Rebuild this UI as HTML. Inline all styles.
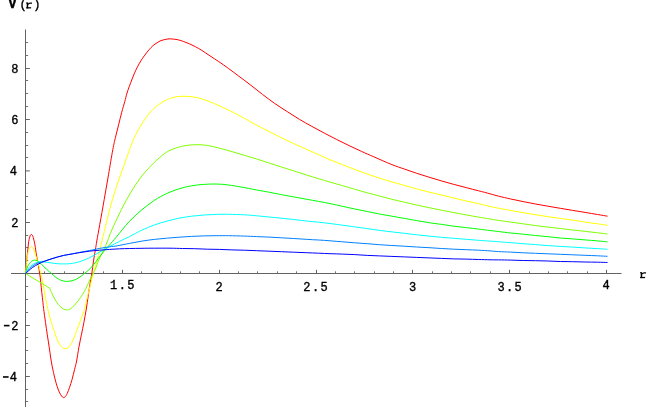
<!DOCTYPE html>
<html><head><meta charset="utf-8"><title>V(r)</title>
<style>
html,body{margin:0;padding:0;background:#fff;}
body{width:646px;height:407px;overflow:hidden;position:relative;}
.t text{font-family:"Liberation Mono",monospace;font-size:12px;letter-spacing:1.4px;fill:#000;stroke:#000;stroke-width:0.35;}
</style></head><body>
<svg width="646" height="407" viewBox="0 0 646 407" style="position:absolute;left:0;top:0;will-change:transform"><rect x="25" y="29.5" width="1" height="378" fill="#626262"/>
<rect x="11" y="273" width="610.5" height="1" fill="#626262"/>
<rect x="44" y="271.3" width="1" height="1.9" fill="#747474"/>
<rect x="64" y="271.3" width="1" height="1.9" fill="#747474"/>
<rect x="83" y="271.3" width="1" height="1.9" fill="#747474"/>
<rect x="103" y="271.3" width="1" height="1.9" fill="#747474"/>
<rect x="122" y="269.8" width="1" height="3.4" fill="#626262"/>
<rect x="141" y="271.3" width="1" height="1.9" fill="#747474"/>
<rect x="161" y="271.3" width="1" height="1.9" fill="#747474"/>
<rect x="180" y="271.3" width="1" height="1.9" fill="#747474"/>
<rect x="199" y="271.3" width="1" height="1.9" fill="#747474"/>
<rect x="219" y="269.8" width="1" height="3.4" fill="#626262"/>
<rect x="238" y="271.3" width="1" height="1.9" fill="#747474"/>
<rect x="257" y="271.3" width="1" height="1.9" fill="#747474"/>
<rect x="277" y="271.3" width="1" height="1.9" fill="#747474"/>
<rect x="296" y="271.3" width="1" height="1.9" fill="#747474"/>
<rect x="316" y="269.8" width="1" height="3.4" fill="#626262"/>
<rect x="335" y="271.3" width="1" height="1.9" fill="#747474"/>
<rect x="354" y="271.3" width="1" height="1.9" fill="#747474"/>
<rect x="374" y="271.3" width="1" height="1.9" fill="#747474"/>
<rect x="393" y="271.3" width="1" height="1.9" fill="#747474"/>
<rect x="412" y="269.8" width="1" height="3.4" fill="#626262"/>
<rect x="432" y="271.3" width="1" height="1.9" fill="#747474"/>
<rect x="451" y="271.3" width="1" height="1.9" fill="#747474"/>
<rect x="470" y="271.3" width="1" height="1.9" fill="#747474"/>
<rect x="490" y="271.3" width="1" height="1.9" fill="#747474"/>
<rect x="509" y="269.8" width="1" height="3.4" fill="#626262"/>
<rect x="529" y="271.3" width="1" height="1.9" fill="#747474"/>
<rect x="548" y="271.3" width="1" height="1.9" fill="#747474"/>
<rect x="567" y="271.3" width="1" height="1.9" fill="#747474"/>
<rect x="587" y="271.3" width="1" height="1.9" fill="#747474"/>
<rect x="606" y="269.8" width="1" height="3.4" fill="#626262"/>
<rect x="26" y="401" width="2.2" height="1" fill="#747474"/>
<rect x="26" y="389" width="2.2" height="1" fill="#747474"/>
<rect x="26" y="376" width="3.8" height="1" fill="#626262"/>
<rect x="26" y="363" width="2.2" height="1" fill="#747474"/>
<rect x="26" y="350" width="2.2" height="1" fill="#747474"/>
<rect x="26" y="337" width="2.2" height="1" fill="#747474"/>
<rect x="26" y="325" width="3.8" height="1" fill="#626262"/>
<rect x="26" y="312" width="2.2" height="1" fill="#747474"/>
<rect x="26" y="299" width="2.2" height="1" fill="#747474"/>
<rect x="26" y="286" width="2.2" height="1" fill="#747474"/>
<rect x="26" y="260" width="2.2" height="1" fill="#747474"/>
<rect x="26" y="247" width="2.2" height="1" fill="#747474"/>
<rect x="26" y="235" width="2.2" height="1" fill="#747474"/>
<rect x="26" y="222" width="3.8" height="1" fill="#626262"/>
<rect x="26" y="209" width="2.2" height="1" fill="#747474"/>
<rect x="26" y="196" width="2.2" height="1" fill="#747474"/>
<rect x="26" y="183" width="2.2" height="1" fill="#747474"/>
<rect x="26" y="170.4" width="3.8" height="1" fill="#626262"/>
<rect x="26" y="157" width="2.2" height="1" fill="#747474"/>
<rect x="26" y="145" width="2.2" height="1" fill="#747474"/>
<rect x="26" y="132" width="2.2" height="1" fill="#747474"/>
<rect x="26" y="119" width="3.8" height="1" fill="#626262"/>
<rect x="26" y="106" width="2.2" height="1" fill="#747474"/>
<rect x="26" y="93" width="2.2" height="1" fill="#747474"/>
<rect x="26" y="80" width="2.2" height="1" fill="#747474"/>
<rect x="26" y="68" width="3.8" height="1" fill="#626262"/>
<rect x="26" y="55" width="2.2" height="1" fill="#747474"/>
<rect x="26" y="42" width="2.2" height="1" fill="#747474"/>
<path d="M25.5 273.5C25.7 271.7 26.2 265.9 26.5 262.5C26.8 259.1 27.1 256.3 27.5 252.8C27.9 249.3 28.3 244.4 28.7 241.6C29.1 238.8 29.7 237.1 30.1 235.9C30.6 234.7 30.9 234.4 31.4 234.5C31.8 234.6 32.3 234.8 32.8 236.2C33.3 237.6 34.0 240.1 34.6 242.9C35.2 245.7 35.6 249.7 36.1 252.8C36.6 255.9 37.1 258.6 37.6 261.4C38.1 264.2 38.7 266.8 39.1 269.5C39.5 272.2 39.9 274.8 40.3 277.9C40.7 280.9 40.9 284.5 41.3 287.8C41.6 291.1 42.0 294.2 42.4 297.7C42.8 301.1 43.1 304.4 43.6 308.5C44.1 312.6 44.9 318.0 45.5 322.4C46.1 326.8 46.7 330.7 47.3 334.8C47.9 338.9 48.7 343.5 49.2 347.2C49.8 350.9 50.1 353.7 50.6 357.0C51.1 360.3 51.6 363.4 52.3 366.9C53.0 370.4 54.0 374.8 54.8 378.1C55.6 381.4 56.4 384.2 57.2 386.7C58.0 389.2 59.0 391.3 59.7 392.9C60.4 394.4 61.0 395.2 61.6 396.0C62.2 396.8 62.8 397.5 63.4 397.6C64.0 397.7 64.7 397.3 65.3 396.6C65.9 395.9 66.5 395.1 67.2 393.5C67.9 391.9 68.8 389.7 69.6 387.3C70.4 384.9 71.3 382.3 72.1 379.3C72.9 376.3 73.8 372.4 74.6 369.4C75.3 366.3 75.9 364.7 76.6 361.0C77.3 357.3 78.1 351.6 78.9 347.2C79.7 342.8 80.6 338.9 81.4 334.8C82.2 330.7 83.1 326.7 83.9 322.4C84.7 318.1 85.6 313.3 86.3 309.0C87.0 304.7 87.5 300.6 88.1 296.5C88.7 292.4 89.4 287.9 90.0 284.1C90.6 280.3 91.2 277.5 91.8 273.6C92.4 269.8 92.9 265.0 93.5 261.0C94.1 257.0 94.9 252.8 95.4 249.5C96.0 246.2 96.1 245.2 96.8 241.0C97.5 236.8 98.6 231.2 99.8 224.3C101.0 217.4 102.8 207.8 104.2 199.5C105.7 191.2 107.1 183.1 108.5 174.8C109.9 166.5 111.6 156.0 112.8 149.7C114.0 143.4 114.5 141.3 115.5 137.2C116.5 133.0 117.6 128.9 118.6 124.8C119.6 120.7 120.7 116.3 121.7 112.4C122.7 108.5 124.0 104.5 124.8 101.5C125.6 98.5 126.0 96.6 126.7 94.1C127.4 91.6 128.2 89.4 129.2 86.7C130.2 84.0 131.4 80.8 132.5 78.0C133.6 75.2 134.7 72.6 135.8 70.2C136.9 67.8 138.0 65.8 139.1 63.8C140.2 61.8 141.3 60.1 142.6 58.2C143.9 56.3 145.6 54.0 147.0 52.2C148.4 50.4 149.7 49.0 151.0 47.6C152.3 46.2 153.3 45.3 155.0 44.1C156.7 42.9 159.0 41.4 161.0 40.6C163.0 39.8 165.5 39.4 167.2 39.1C168.8 38.8 169.2 38.8 170.9 38.9C172.6 39.0 175.0 39.2 177.1 39.6C179.2 40.0 181.2 40.7 183.3 41.4C185.4 42.1 187.4 42.9 189.4 43.8C191.4 44.7 193.5 45.7 195.6 46.8C197.7 47.9 199.4 48.9 201.8 50.4C204.2 51.9 207.2 54.0 210.0 55.9C212.8 57.8 215.7 59.5 218.8 61.6C221.9 63.7 225.4 66.2 228.7 68.6C232.0 71.0 235.0 73.3 238.6 76.0C242.2 78.7 246.0 81.5 250.0 84.6C254.0 87.6 258.3 91.1 262.4 94.3C266.5 97.5 270.7 100.6 274.8 103.5C278.9 106.4 283.1 108.9 287.2 111.6C291.3 114.2 295.4 116.9 299.5 119.4C303.6 121.9 307.8 124.1 311.9 126.4C316.0 128.7 320.2 130.9 324.3 133.1C328.4 135.3 332.6 137.4 336.7 139.5C340.8 141.6 345.0 143.6 349.1 145.6C353.2 147.6 357.4 149.5 361.5 151.4C365.6 153.3 368.7 154.6 373.8 156.8C378.9 159.0 386.8 162.6 391.9 164.6C397.0 166.6 400.2 167.6 404.3 169.0C408.4 170.4 412.6 171.9 416.7 173.3C420.8 174.7 425.0 175.9 429.1 177.2C433.2 178.5 437.4 179.7 441.5 180.9C445.6 182.1 449.7 183.3 453.8 184.4C457.9 185.5 462.1 186.5 466.2 187.6C470.3 188.7 474.6 189.8 478.6 190.8C482.6 191.8 486.7 192.9 490.0 193.8C493.3 194.7 494.9 195.2 498.4 196.1C501.9 197.0 506.7 198.1 510.8 199.0C514.9 199.9 519.1 200.8 523.2 201.6C527.3 202.4 531.4 203.2 535.5 204.0C539.6 204.8 543.8 205.5 547.9 206.2C552.0 206.9 556.2 207.6 560.3 208.3C564.4 209.0 568.6 209.7 572.7 210.4C576.8 211.1 581.0 211.7 585.1 212.4C589.2 213.1 593.8 213.9 597.5 214.5C601.2 215.1 605.8 215.9 607.5 216.2" fill="none" stroke="#ff0000" stroke-width="1.0" stroke-linejoin="round"/>
<path d="M25.5 273.5C25.7 271.3 26.4 263.6 26.8 260.2C27.2 256.8 27.5 254.8 28.0 252.8C28.5 250.8 29.1 249.4 29.7 248.4C30.3 247.4 30.9 246.6 31.5 246.6C32.1 246.6 32.7 247.4 33.3 248.4C33.9 249.4 34.3 250.9 34.9 252.8C35.5 254.7 36.3 257.1 37.0 259.6C37.7 262.1 38.6 265.3 39.3 267.6C39.9 269.9 40.4 271.3 40.9 273.5C41.4 275.7 42.0 278.3 42.5 281.0C43.0 283.7 43.5 286.6 44.0 289.5C44.5 292.4 45.1 295.7 45.6 298.5C46.1 301.3 46.5 303.2 47.2 306.4C47.9 309.6 49.0 314.0 49.9 317.5C50.8 321.0 52.0 324.4 52.9 327.3C53.8 330.2 54.6 332.5 55.4 334.8C56.2 337.1 57.1 339.2 57.9 341.0C58.7 342.8 59.5 344.2 60.3 345.3C61.1 346.4 62.0 347.2 62.8 347.8C63.6 348.4 64.5 348.6 65.3 348.6C66.1 348.6 67.0 348.4 67.8 347.8C68.6 347.2 69.4 346.4 70.2 345.3C71.0 344.2 71.9 342.8 72.7 341.0C73.5 339.2 74.4 337.0 75.2 334.8C76.0 332.6 76.8 330.4 77.7 328.0C78.6 325.6 79.6 323.0 80.5 320.5C81.4 318.0 82.4 315.2 83.1 313.1C83.8 311.0 84.2 310.4 84.9 307.6C85.6 304.8 86.5 300.4 87.5 296.5C88.5 292.6 89.6 287.9 90.6 284.1C91.6 280.3 92.5 276.6 93.3 273.6C94.1 270.6 94.8 268.4 95.5 266.0C96.2 263.6 96.7 261.6 97.4 259.0C98.1 256.4 98.9 253.3 99.6 250.5C100.3 247.7 100.8 245.4 101.7 241.9C102.6 238.4 103.2 235.5 104.8 229.3C106.3 223.1 108.9 211.9 111.0 204.5C113.1 197.1 115.2 190.9 117.2 184.7C119.2 178.5 121.3 173.0 123.3 167.3C125.3 161.6 127.6 155.1 129.3 150.5C131.0 145.9 131.9 143.1 133.4 139.6C134.9 136.1 136.8 132.7 138.4 129.7C140.1 126.7 141.5 124.5 143.3 121.7C145.2 118.9 147.4 115.5 149.5 113.0C151.6 110.5 153.6 108.6 155.7 106.8C157.8 105.0 159.9 103.6 161.9 102.4C163.9 101.2 166.1 100.2 167.5 99.5C168.9 98.8 169.0 98.8 170.5 98.3C172.0 97.8 174.6 97.0 176.7 96.7C178.8 96.4 180.8 96.3 182.9 96.3C185.0 96.3 186.8 96.3 189.1 96.5C191.4 96.7 194.0 97.0 196.5 97.5C199.0 98.0 201.0 98.6 203.9 99.6C206.8 100.6 210.5 102.0 213.8 103.4C217.1 104.8 220.4 106.3 223.7 107.8C227.0 109.3 230.3 110.8 233.7 112.6C237.1 114.3 240.5 116.2 244.3 118.3C248.1 120.4 252.6 123.0 256.7 125.2C260.8 127.4 265.0 129.5 269.1 131.6C273.2 133.7 277.4 135.8 281.5 137.8C285.6 139.8 289.7 141.7 293.8 143.6C297.9 145.5 302.1 147.3 306.2 149.2C310.3 151.0 314.6 152.9 318.6 154.7C322.6 156.5 326.0 158.2 330.0 159.8C334.0 161.5 338.3 163.0 342.4 164.6C346.5 166.2 350.7 167.9 354.8 169.5C358.9 171.1 363.1 172.6 367.2 174.0C371.3 175.4 375.4 176.9 379.5 178.2C383.6 179.5 387.8 180.7 391.9 181.9C396.0 183.1 400.2 184.2 404.3 185.4C408.4 186.6 412.6 187.8 416.7 188.9C420.8 190.0 425.0 191.1 429.1 192.1C433.2 193.1 437.4 194.0 441.5 195.0C445.6 196.0 449.7 197.0 453.8 198.0C457.9 199.0 462.1 200.1 466.2 201.0C470.3 201.9 474.6 202.8 478.6 203.7C482.6 204.6 486.7 205.7 490.0 206.4C493.3 207.2 494.9 207.5 498.4 208.2C501.9 208.9 506.7 209.8 510.8 210.5C514.9 211.2 519.1 212.0 523.2 212.7C527.3 213.4 531.4 214.0 535.5 214.7C539.6 215.4 543.8 216.1 547.9 216.7C552.0 217.3 556.2 217.8 560.3 218.4C564.4 219.0 568.6 219.5 572.7 220.1C576.8 220.7 581.0 221.5 585.1 222.1C589.2 222.7 593.8 223.3 597.5 223.8C601.2 224.3 605.8 225.1 607.5 225.3" fill="none" stroke="#ffff00" stroke-width="1.0" stroke-linejoin="round"/>
<path d="M25.5 273.5L49.7 288.2M49.7 288.2C50.0 289.0 50.9 291.0 51.7 292.8C52.5 294.6 53.6 297.1 54.7 299.0C55.8 300.9 57.2 303.0 58.4 304.5C59.6 306.0 60.8 307.3 62.1 308.2C63.4 309.1 65.0 309.8 66.4 309.9C67.9 310.0 69.5 309.4 70.8 308.6C72.1 307.8 73.2 306.6 74.5 305.2C75.8 303.8 77.3 302.0 78.6 300.2C79.9 298.4 81.2 296.6 82.4 294.6C83.6 292.6 84.8 290.7 86.0 288.4C87.2 286.1 88.1 283.5 89.3 281.0C90.5 278.5 92.1 275.6 93.1 273.6C94.1 271.6 94.4 271.3 95.4 269.0C96.4 266.7 97.5 262.9 98.9 259.7C100.3 256.5 102.2 252.9 103.7 249.8C105.2 246.7 106.2 244.2 107.6 240.9C108.9 237.6 109.5 235.2 111.8 230.0C114.1 224.8 118.3 215.7 121.5 209.4C124.7 203.1 127.8 197.5 131.0 192.1C134.2 186.7 137.4 181.7 140.9 177.2C144.4 172.7 148.3 168.5 151.8 164.9C155.3 161.3 158.7 158.2 161.7 155.8C164.7 153.4 166.6 151.9 170.0 150.3C173.4 148.7 178.3 147.1 182.4 146.2C186.5 145.3 190.7 144.8 194.8 144.7C198.9 144.6 203.1 144.8 207.2 145.4C211.3 146.0 215.4 147.2 219.5 148.2C223.6 149.2 227.8 150.4 231.9 151.6C236.0 152.8 240.2 154.1 244.3 155.3C248.4 156.5 252.6 157.7 256.7 159.0C260.8 160.3 265.0 161.7 269.1 163.0C273.2 164.3 277.4 165.7 281.5 167.0C285.6 168.3 289.7 169.6 293.8 170.9C297.9 172.2 302.1 173.6 306.2 174.9C310.3 176.2 314.6 177.5 318.6 178.7C322.6 179.9 326.0 180.9 330.0 182.1C334.0 183.2 338.3 184.4 342.4 185.6C346.5 186.8 350.7 188.1 354.8 189.3C358.9 190.5 363.1 191.7 367.2 192.8C371.3 193.9 375.4 194.9 379.5 196.0C383.6 197.1 387.8 198.3 391.9 199.3C396.0 200.3 400.2 201.2 404.3 202.2C408.4 203.1 412.6 204.1 416.7 205.0C420.8 205.9 425.0 206.8 429.1 207.7C433.2 208.6 437.4 209.4 441.5 210.2C445.6 211.0 449.7 211.8 453.8 212.6C457.9 213.4 462.1 214.2 466.2 214.9C470.3 215.7 474.6 216.4 478.6 217.1C482.6 217.8 486.7 218.4 490.0 219.0C493.3 219.6 494.9 219.9 498.4 220.4C501.9 220.9 506.7 221.5 510.8 222.1C514.9 222.7 519.1 223.2 523.2 223.8C527.3 224.4 531.4 225.1 535.5 225.6C539.6 226.1 543.8 226.6 547.9 227.1C552.0 227.6 556.2 228.0 560.3 228.5C564.4 229.0 568.6 229.5 572.7 230.0C576.8 230.5 581.0 230.8 585.1 231.3C589.2 231.8 593.8 232.4 597.5 232.8C601.2 233.2 605.8 233.8 607.5 234.0" fill="none" stroke="#80ff00" stroke-width="1.0" stroke-linejoin="round"/>
<path d="M25.5 273.5C25.8 272.4 26.7 268.7 27.4 267.0C28.1 265.3 28.9 264.4 29.6 263.4C30.3 262.4 31.0 261.8 31.8 261.2C32.6 260.6 33.6 260.1 34.6 260.1C35.6 260.1 36.5 260.4 37.5 261.0C38.5 261.6 39.9 262.6 40.9 263.5C41.9 264.4 42.5 265.4 43.4 266.3C44.3 267.2 45.3 268.0 46.2 268.8C47.1 269.6 48.0 270.5 48.9 271.3C49.8 272.1 50.5 272.7 51.3 273.4C52.1 274.1 53.0 275.0 53.8 275.7C54.6 276.4 55.4 277.0 56.2 277.6C57.0 278.2 57.8 278.7 58.6 279.1C59.4 279.5 60.0 279.9 60.9 280.2C61.8 280.5 62.7 280.9 63.7 281.1C64.7 281.3 65.7 281.4 67.1 281.4C68.5 281.3 70.4 281.2 72.0 280.8C73.6 280.4 75.2 279.7 76.8 278.9C78.3 278.1 79.7 277.1 81.3 276.0C82.9 274.9 84.7 273.4 86.2 272.1C87.8 270.8 89.0 269.9 90.6 268.2C92.2 266.5 94.3 263.8 95.9 261.7C97.5 259.6 98.8 257.7 100.3 255.8C101.8 253.9 103.2 252.1 104.8 250.3C106.3 248.5 107.6 247.2 109.6 244.9C111.6 242.6 113.4 240.5 116.6 236.7C119.8 232.9 124.7 226.4 128.8 222.0C132.9 217.6 137.2 213.8 141.4 210.2C145.7 206.6 150.1 203.2 154.3 200.4C158.5 197.6 162.6 195.4 166.7 193.5C170.8 191.6 175.0 190.1 179.1 188.8C183.2 187.5 187.4 186.5 191.5 185.8C195.6 185.1 199.7 184.7 203.8 184.4C207.9 184.1 212.1 183.9 216.2 184.0C220.3 184.1 224.6 184.5 228.6 185.0C232.6 185.5 235.3 186.0 240.0 186.8C244.7 187.6 251.8 189.1 256.7 190.0C261.6 190.9 265.0 191.4 269.1 192.2C273.2 193.0 277.4 193.9 281.5 194.7C285.6 195.5 289.7 196.2 293.8 196.9C297.9 197.7 302.1 198.4 306.2 199.2C310.3 199.9 314.6 200.7 318.6 201.4C322.6 202.1 326.0 202.8 330.0 203.6C334.0 204.4 338.3 205.4 342.4 206.3C346.5 207.2 350.7 208.1 354.8 209.0C358.9 209.9 363.1 210.7 367.2 211.5C371.3 212.3 375.4 213.2 379.5 214.0C383.6 214.8 387.8 215.5 391.9 216.2C396.0 216.9 400.2 217.7 404.3 218.4C408.4 219.1 412.6 219.9 416.7 220.6C420.8 221.3 425.0 222.1 429.1 222.7C433.2 223.3 437.4 223.8 441.5 224.4C445.6 225.0 449.7 225.7 453.8 226.2C457.9 226.7 462.1 227.1 466.2 227.6C470.3 228.1 474.6 228.6 478.6 229.1C482.6 229.6 486.7 230.1 490.0 230.5C493.3 230.9 494.9 231.1 498.4 231.5C501.9 231.9 506.7 232.6 510.8 233.0C514.9 233.4 519.1 233.8 523.2 234.2C527.3 234.6 531.4 235.1 535.5 235.5C539.6 235.9 543.8 236.3 547.9 236.7C552.0 237.1 556.2 237.6 560.3 238.0C564.4 238.4 568.6 238.6 572.7 238.9C576.8 239.2 581.0 239.6 585.1 239.9C589.2 240.2 593.8 240.6 597.5 240.9C601.2 241.2 605.8 241.7 607.5 241.9" fill="none" stroke="#00ff00" stroke-width="1.0" stroke-linejoin="round"/>
<path d="M25.5 273.5C26.0 272.6 27.6 269.4 28.7 267.9C29.8 266.4 31.2 265.6 32.4 264.7C33.6 263.8 34.9 263.2 36.1 262.7C37.3 262.2 38.3 261.9 39.8 261.8C41.2 261.7 42.9 261.9 44.8 262.1C46.7 262.3 48.9 262.6 51.0 262.9C53.1 263.2 55.2 263.5 57.2 263.7C59.2 263.9 61.2 263.9 63.3 263.9C65.3 263.9 67.5 263.9 69.5 263.7C71.5 263.5 73.3 263.2 75.0 262.9C76.7 262.5 78.2 262.1 79.9 261.6C81.6 261.1 83.2 260.5 84.9 259.8C86.6 259.1 88.2 258.4 89.8 257.6C91.4 256.8 93.1 255.8 94.8 254.9C96.5 254.0 98.0 252.9 99.7 252.0C101.4 251.1 103.1 250.1 104.7 249.2C106.3 248.3 107.9 247.5 109.6 246.6C111.2 245.7 112.9 244.8 114.6 243.9C116.3 243.0 117.9 242.1 119.6 241.3C121.2 240.5 122.8 239.7 124.5 238.9C126.2 238.1 127.7 237.5 129.5 236.6C131.3 235.7 133.4 234.5 135.5 233.4C137.6 232.3 138.8 231.5 141.9 230.1C145.0 228.7 150.2 226.5 154.3 225.0C158.4 223.5 162.6 222.3 166.7 221.2C170.8 220.1 175.0 219.0 179.1 218.2C183.2 217.4 187.4 216.7 191.5 216.2C195.6 215.7 199.7 215.3 203.8 215.0C207.9 214.7 212.1 214.5 216.2 214.4C220.3 214.3 223.9 214.2 228.6 214.3C233.3 214.4 239.6 214.6 244.3 214.8C249.0 215.1 252.6 215.4 256.7 215.8C260.8 216.2 265.0 216.6 269.1 217.0C273.2 217.4 277.4 217.8 281.5 218.2C285.6 218.6 289.7 219.0 293.8 219.5C297.9 220.0 302.1 220.6 306.2 221.0C310.3 221.4 314.6 221.8 318.6 222.2C322.6 222.6 326.0 223.0 330.0 223.5C334.0 224.0 338.3 224.6 342.4 225.2C346.5 225.8 350.7 226.3 354.8 226.9C358.9 227.5 363.1 228.0 367.2 228.6C371.3 229.2 375.4 229.8 379.5 230.4C383.6 231.0 387.8 231.4 391.9 231.9C396.0 232.4 400.2 232.8 404.3 233.3C408.4 233.8 412.6 234.3 416.7 234.8C420.8 235.3 425.0 235.7 429.1 236.1C433.2 236.5 437.4 236.9 441.5 237.3C445.6 237.7 449.7 238.0 453.8 238.3C457.9 238.6 462.1 239.0 466.2 239.3C470.3 239.6 474.6 240.0 478.6 240.3C482.6 240.6 486.7 240.9 490.0 241.1C493.3 241.3 494.9 241.4 498.4 241.7C501.9 242.0 506.7 242.4 510.8 242.7C514.9 243.0 519.1 243.4 523.2 243.7C527.3 244.0 531.4 244.3 535.5 244.6C539.6 244.9 543.8 245.3 547.9 245.6C552.0 245.9 556.2 246.2 560.3 246.4C564.4 246.7 568.6 246.8 572.7 247.1C576.8 247.3 581.0 247.7 585.1 247.9C589.2 248.2 593.8 248.4 597.5 248.6C601.2 248.8 605.8 249.2 607.5 249.3" fill="none" stroke="#00ffff" stroke-width="1.0" stroke-linejoin="round"/>
<path d="M25.5 273.5C26.5 272.4 29.5 268.5 31.5 266.8C33.5 265.1 35.3 264.1 37.5 263.1C39.7 262.1 42.5 261.7 44.8 261.0C47.0 260.3 48.9 259.6 51.0 259.0C53.1 258.4 55.2 257.7 57.2 257.1C59.2 256.5 61.2 256.0 63.3 255.5C65.4 255.0 67.2 254.8 70.0 254.3C72.8 253.8 76.6 252.9 79.9 252.3C83.2 251.7 86.5 251.2 89.8 250.5C93.1 249.8 96.4 249.0 99.7 248.4C103.0 247.8 106.7 247.2 109.6 246.8C112.5 246.4 113.9 246.4 117.2 245.8C120.5 245.2 125.4 244.2 129.5 243.4C133.6 242.6 137.8 241.8 141.9 241.1C146.0 240.4 150.2 239.9 154.3 239.4C158.4 238.9 162.6 238.6 166.7 238.2C170.8 237.8 175.0 237.5 179.1 237.2C183.2 236.9 187.4 236.6 191.5 236.4C195.6 236.2 199.7 236.0 203.8 235.9C207.9 235.8 212.1 235.7 216.2 235.7C220.3 235.7 223.9 235.6 228.6 235.7C233.3 235.8 239.6 235.9 244.3 236.1C249.0 236.2 252.6 236.4 256.7 236.6C260.8 236.8 265.0 236.9 269.1 237.1C273.2 237.3 277.4 237.6 281.5 237.8C285.6 238.0 289.7 238.2 293.8 238.5C297.9 238.8 302.1 239.1 306.2 239.3C310.3 239.6 314.6 239.8 318.6 240.0C322.6 240.2 326.0 240.5 330.0 240.8C334.0 241.1 338.3 241.5 342.4 241.8C346.5 242.1 350.7 242.5 354.8 242.8C358.9 243.1 363.1 243.4 367.2 243.7C371.3 244.0 375.4 244.4 379.5 244.7C383.6 245.0 387.8 245.2 391.9 245.5C396.0 245.8 400.2 245.9 404.3 246.2C408.4 246.4 412.6 246.8 416.7 247.0C420.8 247.2 425.0 247.4 429.1 247.7C433.2 247.9 437.4 248.2 441.5 248.5C445.6 248.8 449.7 249.0 453.8 249.2C457.9 249.4 462.1 249.5 466.2 249.7C470.3 249.9 474.6 250.0 478.6 250.2C482.6 250.4 486.7 250.7 490.0 250.9C493.3 251.1 494.9 251.4 498.4 251.6C501.9 251.8 506.7 251.9 510.8 252.1C514.9 252.3 519.1 252.6 523.2 252.8C527.3 253.0 531.4 253.1 535.5 253.3C539.6 253.5 543.8 253.6 547.9 253.8C552.0 254.0 556.2 254.1 560.3 254.3C564.4 254.5 568.6 254.6 572.7 254.8C576.8 255.0 581.0 255.1 585.1 255.3C589.2 255.5 593.8 255.6 597.5 255.8C601.2 256.0 605.8 256.2 607.5 256.3" fill="none" stroke="#0080ff" stroke-width="1.0" stroke-linejoin="round"/>
<path d="M25.5 273.5C26.6 272.5 30.2 269.2 32.4 267.6C34.6 266.0 36.5 265.0 38.6 263.9C40.7 262.8 42.7 262.0 44.8 261.2C46.9 260.4 48.9 259.7 51.0 259.0C53.1 258.3 55.2 257.7 57.2 257.1C59.2 256.5 61.2 256.0 63.3 255.5C65.4 255.0 67.2 254.8 70.0 254.3C72.8 253.8 76.6 253.1 79.9 252.6C83.2 252.1 86.5 251.5 89.8 251.1C93.1 250.7 96.4 250.5 99.7 250.2C103.0 249.9 106.3 249.6 109.6 249.4C112.9 249.2 116.3 249.0 119.6 248.8C122.9 248.7 125.8 248.6 129.5 248.5C133.2 248.4 137.8 248.4 141.9 248.3C146.0 248.2 149.6 248.2 154.3 248.2C159.0 248.2 165.3 248.1 170.0 248.2C174.7 248.2 178.3 248.4 182.4 248.5C186.5 248.6 190.7 248.6 194.8 248.7C198.9 248.8 203.1 249.1 207.2 249.2C211.3 249.3 215.4 249.3 219.5 249.4C223.6 249.5 227.8 249.8 231.9 249.9C236.0 250.0 240.2 250.1 244.3 250.2C248.4 250.3 252.6 250.5 256.7 250.7C260.8 250.9 265.0 251.0 269.1 251.2C273.2 251.4 277.4 251.5 281.5 251.7C285.6 251.9 289.7 252.0 293.8 252.2C297.9 252.4 302.1 252.5 306.2 252.7C310.3 252.9 314.6 253.0 318.6 253.2C322.6 253.4 326.0 253.5 330.0 253.7C334.0 253.8 338.3 253.9 342.4 254.1C346.5 254.2 350.7 254.4 354.8 254.6C358.9 254.8 363.1 255.2 367.2 255.4C371.3 255.6 375.4 255.7 379.5 255.9C383.6 256.1 387.8 256.2 391.9 256.4C396.0 256.6 400.2 256.7 404.3 256.9C408.4 257.1 412.6 257.2 416.7 257.4C420.8 257.6 425.0 257.7 429.1 257.9C433.2 258.1 437.4 258.2 441.5 258.4C445.6 258.6 449.7 258.8 453.8 258.9C457.9 259.0 462.1 259.0 466.2 259.1C470.3 259.2 474.6 259.4 478.6 259.5C482.6 259.6 486.7 259.7 490.0 259.8C493.3 259.9 494.9 259.8 498.4 259.9C501.9 259.9 506.7 260.0 510.8 260.1C514.9 260.2 519.1 260.4 523.2 260.5C527.3 260.6 531.4 260.6 535.5 260.7C539.6 260.8 543.8 260.9 547.9 261.0C552.0 261.1 556.2 261.4 560.3 261.5C564.4 261.6 568.6 261.6 572.7 261.7C576.8 261.8 581.0 261.9 585.1 262.0C589.2 262.1 593.8 262.1 597.5 262.2C601.2 262.3 605.8 262.4 607.5 262.5" fill="none" stroke="#0000ff" stroke-width="1.0" stroke-linejoin="round"/><g class="t"><text x="123.0" y="289.4" text-anchor="middle">1.5</text><text x="219.8" y="290.8" text-anchor="middle">2</text><text x="316.2" y="290.8" text-anchor="middle">2.5</text><text x="413.2" y="290.8" text-anchor="middle">3</text><text x="510.3" y="290.8" text-anchor="middle">3.5</text><text x="606.7" y="289.4" text-anchor="middle">4</text><text x="19.8" y="72.7" text-anchor="end">8</text><text x="19.8" y="124.0" text-anchor="end">6</text><text x="18.3" y="175.4" text-anchor="end">4</text><text x="19.8" y="226.7" text-anchor="end">2</text><text x="19.8" y="329.5" text-anchor="end">2</text><text x="18.3" y="380.8" text-anchor="end">4</text><text x="8.3" y="7.9" style="font-weight:bold;font-size:14px">V</text><text x="19.6" y="8.3">(</text><text x="33.3" y="8.3">)</text></g><g fill="#000"><g transform="translate(0.00 0.00)"><rect x="640.7" y="272.2" width="1.5" height="5.9"/><rect x="640.1" y="276.9" width="5.0" height="1.25"/><rect x="640.1" y="272.2" width="1.2" height="1.1"/><path d="M642.0 274.6 L642.0 273.2 Q643.2 272.2 644.6 272.2 L646 272.2 L646 273.5 L644.6 273.5 Q643.2 273.6 642.0 274.6Z"/></g><g transform="translate(-614.00 -269.70)"><rect x="640.7" y="272.2" width="1.5" height="5.9"/><rect x="640.1" y="276.9" width="5.0" height="1.25"/><rect x="640.1" y="272.2" width="1.2" height="1.1"/><path d="M642.0 274.6 L642.0 273.2 Q643.2 272.2 644.6 272.2 L646 272.2 L646 273.5 L644.6 273.5 Q643.2 273.6 642.0 274.6Z"/></g></g><rect x="3.9" y="324.81" width="5.6" height="1.6" fill="#000"/><rect x="3.0" y="376.17" width="5.6" height="1.6" fill="#000"/></svg>
</body></html>
